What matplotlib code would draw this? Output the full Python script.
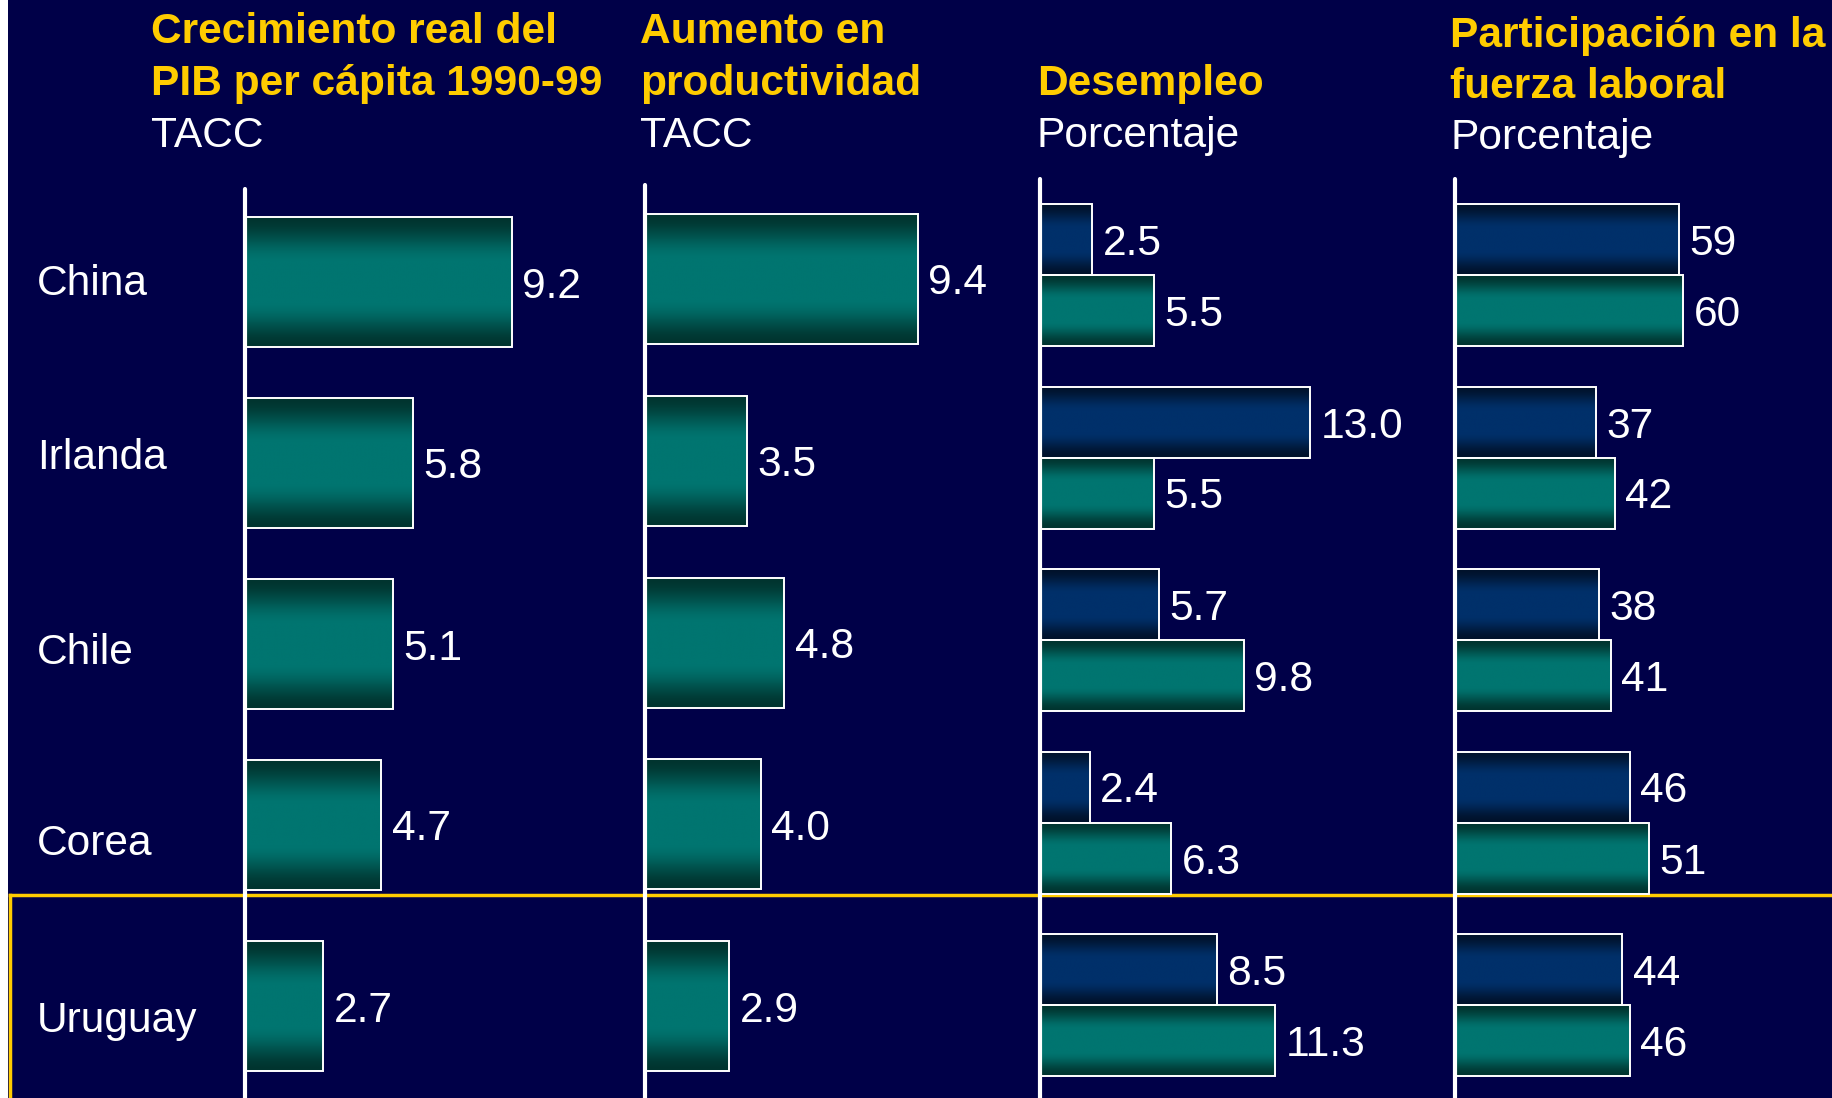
import numpy as np
import matplotlib
matplotlib.use("Agg")
import matplotlib.pyplot as plt
from matplotlib.colors import LinearSegmentedColormap
from matplotlib.lines import Line2D
from matplotlib.patches import Rectangle

# ---------------- data ----------------
countries = ["China", "Irlanda", "Chile", "Corea", "Uruguay"]
pib_growth = [9.2, 5.8, 5.1, 4.7, 2.7]
productivity = [9.4, 3.5, 4.8, 4.0, 2.9]
unemployment_a = [2.5, 13.0, 5.7, 2.4, 8.5]
unemployment_b = [5.5, 5.5, 9.8, 6.3, 11.3]
participation_a = [59, 37, 38, 46, 44]
participation_b = [60, 42, 41, 51, 46]

titles = [
    ["Crecimiento real del", "PIB per cápita 1990-99"],
    ["Aumento en", "productividad"],
    ["Desempleo"],
    ["Participación en la", "fuerza laboral"],
]
subtitles = ["TACC", "TACC", "Porcentaje", "Porcentaje"]

# ---------------- style ----------------
W, H = 1832, 1098
BG = "#000048"
YELLOW = "#FFCC00"
FONT = ["Liberation Sans", "DejaVu Sans"]
FS = 30.6

plt.rcParams["font.family"] = FONT

fig = plt.figure(figsize=(W / 100, H / 100), dpi=100, facecolor=BG)


def fx(px):
    return px / W


def fy(py):
    return 1 - py / H


# white strip on the left, yellow frame around Uruguay
fig.add_artist(Rectangle((0, 0), fx(8), 1, transform=fig.transFigure,
                         facecolor="white", edgecolor="none", zorder=-5))
fig.add_artist(Line2D([fx(9.5), 1], [fy(895), fy(895)], transform=fig.transFigure,
                      color=YELLOW, lw=2.5, zorder=-4))
fig.add_artist(Line2D([fx(9.5), fx(9.5)], [fy(895), 0], transform=fig.transFigure,
                      color=YELLOW, lw=2.5, zorder=-4))

# gradient colormaps
teal_cmap = LinearSegmentedColormap.from_list("teal", ["#00342F", "#007570"])
navy_cmap = LinearSegmentedColormap.from_list("navy", ["#00122B", "#00306A"])
t = np.linspace(0, 1, 256)
d = np.minimum(t, 1 - t) / 0.5
f = np.clip(d / 0.7, 0, 1)
f = f * f * (3 - 2 * f)
grad = f.reshape(-1, 1)

# panel layout: axis x px, px per unit, axis-top px, first row centre px, row spacing px, right px
panels = [
    dict(x0=245, scale=29.0, top=189, c0=282, sp=181.0, x1=640, fmt="{:.1f}"),
    dict(x0=645, scale=29.0, top=185, c0=279, sp=181.8, x1=1035, fmt="{:.1f}"),
    dict(x0=1040, scale=20.8, top=179, c0=275, sp=182.5, x1=1450, fmt="{:.1f}"),
    dict(x0=1455, scale=3.8, top=179, c0=275, sp=182.5, x1=W, fmt="{:.0f}"),
]
series = [
    [(pib_growth, teal_cmap)],
    [(productivity, teal_cmap)],
    [(unemployment_a, navy_cmap), (unemployment_b, teal_cmap)],
    [(participation_a, navy_cmap), (participation_b, teal_cmap)],
]

y = np.arange(len(countries))

for p, ser in zip(panels, series):
    ax = fig.add_axes([fx(p["x0"]), 0, fx(p["x1"] - p["x0"]), 1])
    ax.set_facecolor("none")
    n = len(ser)
    if n == 1:
        h = 130 / p["sp"]
        offsets = [0.0]
    else:
        h = 71 / p["sp"]
        offsets = [-h / 2, h / 2]
    for (vals, cmap), off in zip(ser, offsets):
        bars = ax.barh(y + off, vals, height=h, facecolor="none",
                       edgecolor="white", linewidth=1.4, zorder=3)
        for b, v in zip(bars, vals):
            bb = b.get_bbox()
            ax.imshow(grad, cmap=cmap, vmin=0, vmax=1, aspect="auto",
                      extent=[bb.x0, bb.x1, bb.y1, bb.y0], zorder=2,
                      interpolation="bilinear")
            ax.annotate(p["fmt"].format(v), (bb.x1, (bb.y0 + bb.y1) / 2),
                        xytext=(7.5, 0), textcoords="offset points",
                        ha="left", va="center_baseline", color="white",
                        fontsize=FS, zorder=4)
    xmax = (p["x1"] - p["x0"]) / p["scale"]
    ax.set_xlim(0, xmax)
    ybot = (H - p["c0"]) / p["sp"]
    ytop = (0 - p["c0"]) / p["sp"]
    ax.set_ylim(ybot, ytop)
    for s in ["top", "right", "bottom"]:
        ax.spines[s].set_visible(False)
    ax.spines["left"].set_color("white")
    ax.spines["left"].set_linewidth(3.0)
    ax.spines["left"].set_capstyle("round")
    ax.spines["left"].set_bounds(ybot, (p["top"] - p["c0"]) / p["sp"])
    ax.set_xticks([])
    ax.set_yticks([])

# titles
title_pos = [
    dict(x=151, ys=[43, 95], sub=147),
    dict(x=640, ys=[43, 95], sub=147),
    dict(x=1037, ys=[95], sub=147),
    dict(x=1450, ys=[47, 98], sub=149),
]
for tp, lines, sub in zip(title_pos, titles, subtitles):
    for line, yy in zip(lines, tp["ys"]):
        fig.text(fx(tp["x"]), fy(yy), line, color=YELLOW, fontsize=FS,
                 fontweight="bold", ha="left", va="baseline")
    fig.text(fx(tp["x"]), fy(tp["sub"]), sub, color="white", fontsize=FS,
             ha="left", va="baseline")

# country labels
label_baseline_px = [295, 469, 664, 855, 1032]
for name, yy in zip(countries, label_baseline_px):
    fig.text(fx(37), fy(yy), name, color="white", fontsize=FS,
             ha="left", va="baseline")

fig.savefig("out.png", dpi=100, facecolor=BG)
